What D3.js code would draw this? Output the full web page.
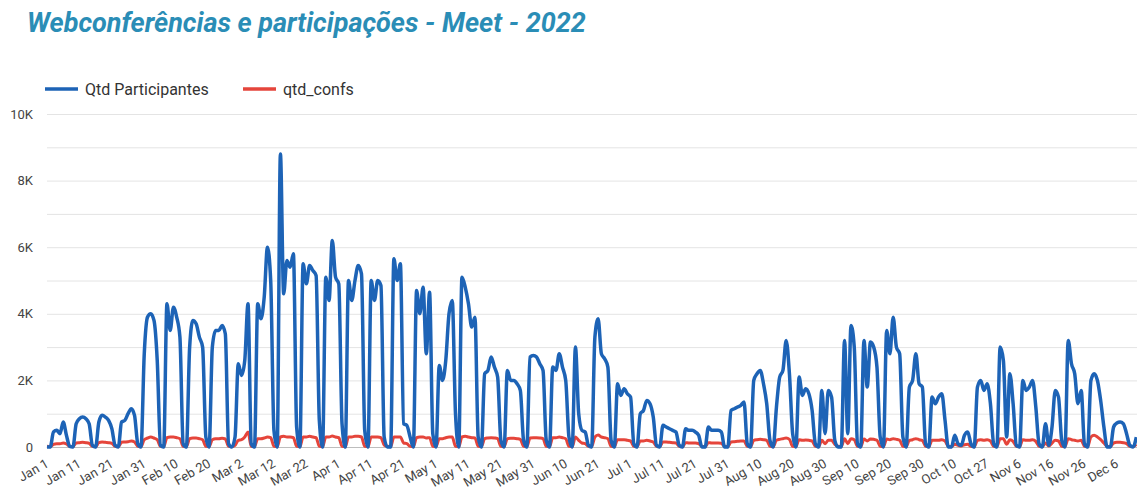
<!DOCTYPE html>
<html><head><meta charset="utf-8">
<script src="https://cdn.jsdelivr.net/npm/d3@7"></script>
<style>
body{margin:0;background:#fff;}
svg{display:block;font-family:Roboto, "Noto Sans", sans-serif;}
</style>
</head><body>
<svg id="chart" width="1137" height="489"></svg>
<script>
const title = "Webconferências e participações - Meet - 2022";
const seriesNames = ["Qtd Participantes", "qtd_confs"];

const categories = [
"Jan 1","Jan 2","Jan 3","Jan 4","Jan 5","Jan 6","Jan 7","Jan 8","Jan 9","Jan 10","Jan 11","Jan 12","Jan 13","Jan 14","Jan 15","Jan 16","Jan 17","Jan 18","Jan 19","Jan 20","Jan 21","Jan 22","Jan 23","Jan 24","Jan 25","Jan 26","Jan 27","Jan 28","Jan 29","Jan 30","Jan 31",
"Feb 1","Feb 2","Feb 3","Feb 4","Feb 5","Feb 6","Feb 7","Feb 8","Feb 9","Feb 10","Feb 11","Feb 12","Feb 13","Feb 14","Feb 15","Feb 16","Feb 17","Feb 18","Feb 19","Feb 20","Feb 21","Feb 22","Feb 23","Feb 24","Feb 25","Feb 26","Feb 27","Feb 28",
"Mar 1","Mar 2","Mar 3","Mar 4","Mar 5","Mar 6","Mar 7","Mar 8","Mar 9","Mar 10","Mar 11","Mar 12","Mar 13","Mar 14","Mar 15","Mar 16","Mar 17","Mar 18","Mar 19","Mar 20","Mar 21","Mar 22","Mar 23","Mar 24","Mar 25","Mar 26","Mar 27","Mar 28","Mar 29","Mar 30","Mar 31",
"Apr 1","Apr 2","Apr 3","Apr 4","Apr 5","Apr 6","Apr 7","Apr 8","Apr 9","Apr 10","Apr 11","Apr 12","Apr 13","Apr 14","Apr 15","Apr 16","Apr 17","Apr 18","Apr 19","Apr 20","Apr 21","Apr 22","Apr 23","Apr 24","Apr 25","Apr 26","Apr 27","Apr 28","Apr 29","Apr 30",
"May 1","May 2","May 3","May 4","May 5","May 6","May 7","May 8","May 9","May 10","May 11","May 12","May 13","May 14","May 15","May 16","May 17","May 18","May 19","May 20","May 21","May 22","May 23","May 24","May 25","May 26","May 27","May 28","May 29","May 30","May 31",
"Jun 1","Jun 2","Jun 3","Jun 4","Jun 5","Jun 6","Jun 7","Jun 8","Jun 9","Jun 10","Jun 11","Jun 12","Jun 13","Jun 14","Jun 15","Jun 17","Jun 18","Jun 19","Jun 20","Jun 21","Jun 22","Jun 23","Jun 24","Jun 25","Jun 26","Jun 27","Jun 28","Jun 29","Jun 30",
"Jul 1","Jul 2","Jul 3","Jul 4","Jul 5","Jul 6","Jul 7","Jul 8","Jul 9","Jul 10","Jul 11","Jul 12","Jul 13","Jul 14","Jul 15","Jul 16","Jul 17","Jul 18","Jul 19","Jul 20","Jul 21","Jul 22","Jul 23","Jul 24","Jul 25","Jul 26","Jul 27","Jul 28","Jul 29","Jul 30","Jul 31",
"Aug 1","Aug 2","Aug 3","Aug 4","Aug 5","Aug 6","Aug 7","Aug 8","Aug 9","Aug 10","Aug 11","Aug 12","Aug 13","Aug 14","Aug 15","Aug 16","Aug 17","Aug 18","Aug 19","Aug 20","Aug 21","Aug 22","Aug 23","Aug 24","Aug 25","Aug 26","Aug 27","Aug 28","Aug 29","Aug 30","Aug 31",
"Sep 1","Sep 2","Sep 3","Sep 4","Sep 5","Sep 6","Sep 8","Sep 9","Sep 10","Sep 11","Sep 12","Sep 13","Sep 14","Sep 15","Sep 16","Sep 17","Sep 18","Sep 19","Sep 20","Sep 21","Sep 22","Sep 23","Sep 24","Sep 25","Sep 26","Sep 27","Sep 28","Sep 29","Sep 30",
"Oct 1","Oct 2","Oct 3","Oct 4","Oct 5","Oct 6","Oct 7","Oct 8","Oct 9","Oct 10","Oct 11","Oct 12","Oct 13","Oct 14","Oct 22","Oct 23","Oct 24","Oct 25","Oct 26","Oct 27","Oct 28","Oct 29","Oct 30","Oct 31",
"Nov 1","Nov 2","Nov 3","Nov 4","Nov 5","Nov 6","Nov 7","Nov 8","Nov 9","Nov 10","Nov 11","Nov 12","Nov 13","Nov 14","Nov 15","Nov 16","Nov 17","Nov 18","Nov 19","Nov 20","Nov 21","Nov 22","Nov 23","Nov 24","Nov 25","Nov 26","Nov 27","Nov 28","Nov 29","Nov 30",
"Dec 1","Dec 2","Dec 3","Dec 4","Dec 5","Dec 6","Dec 7","Dec 8","Dec 9","Dec 10","Dec 11","Dec 12"
];

// Qtd Participantes (daily)
const participantes = [
  0, 0,
  450, 500, 400, 750, 350, 20, 0,
  700, 850, 900, 850, 700, 50, 0,
  750, 950, 900, 800, 550, 50, 0,
  750, 800, 1000, 1150, 950, 100, 0,
  2800, 3900, 4000, 3800, 2600, 50, 0,
  4300, 3500, 4200, 3900, 3300, 100, 0,
  3000, 3800, 3700, 3300, 3000, 300, 0,
  3000, 3500, 3500, 3650, 3400, 100, 0,
  300, 2500, 2150, 2600, 4300, 100, 0,
  4300, 3850, 4500, 6000, 5000, 500, 0,
  8800, 4600, 5600, 5400, 5800, 600, 0,
  5500, 4900, 5450, 5300, 5150, 800, 0,
  5100, 4400, 6200, 5100, 4900, 700, 0,
  5000, 4400, 5000, 5450, 5200, 500, 0,
  5000, 4400, 5000, 4850, 300, 0, 0,
  5650, 5000, 5500, 700, 650, 300, 0,
  4700, 4000, 4800, 2800, 4650, 400, 0,
  2450, 2000, 2600, 4000, 4400, 1000, 0,
  5100, 4800, 4300, 3600, 3900, 300, 0,
  2200, 2300, 2700, 2400, 2100, 200, 0,
  2300, 2000, 2000, 1900, 1700, 200, 0,
  2700, 2750, 2700, 2500, 2300, 200, 0,
  2400, 2300, 2800, 2400, 2000, 300, 0,
  3000, 1000, 500, 450, 50, 0,
  3300, 3850, 2800, 2650, 2400, 200, 0,
  1900, 1550, 1750, 1600, 1500, 100, 0,
  1000, 1100, 1400, 1300, 900, 50, 0,
  650, 600, 550, 500, 450, 50, 0,
  550, 500, 500, 450, 350, 0, 0,
  600, 500, 500, 500, 450, 0, 0,
  1100, 1150, 1200, 1250, 1350, 100, 0,
  2000, 2200, 2300, 1900, 1300, 200, 0,
  1200, 2100, 2300, 3200, 2200, 400, 0,
  2100, 1550, 1750, 1600, 1100, 100, 0,
  1700, 400, 1700, 1500, 200, 0, 0,
  3200, 400, 3650, 3000, 100, 0,
  3200, 1800, 3150, 3000, 2400, 300, 0,
  3500, 2800, 3900, 3000, 2800, 300, 0,
  1800, 2000, 2800, 1900, 1800, 100, 0,
  1500, 1300, 1500, 1600, 800, 0, 0,
  350, 100, 50, 350, 450, 100, 0,
  1800, 2000, 1700, 1900, 1300, 100, 0,
  3000, 2600, 300, 2200, 1300, 50, 0,
  2000, 1700, 1800, 2000, 1200, 100, 0,
  700, 50, 600, 1700, 1500, 200, 0,
  3200, 2500, 2200, 1300, 1700, 100, 0,
  2000, 2200, 2000, 1400, 600, 0, 0,
  600, 720, 750, 700, 400, 50, 0,
  300
];

// qtd_confs (daily)
const confs = [
  20, 10,
  80, 100, 100, 120, 90, 20, 10,
  120, 130, 140, 130, 110, 20, 10,
  130, 150, 140, 130, 110, 20, 10,
  140, 150, 160, 180, 150, 20, 10,
  220, 270, 300, 270, 220, 20, 10,
  280, 300, 300, 280, 250, 20, 10,
  250, 270, 270, 250, 220, 20, 10,
  220, 250, 250, 260, 240, 20, 10,
  50, 200, 220, 300, 450, 20, 10,
  250, 250, 270, 300, 280, 20, 10,
  300, 320, 300, 300, 280, 20, 10,
  300, 300, 320, 300, 280, 20, 10,
  300, 300, 330, 300, 280, 20, 10,
  300, 300, 320, 320, 300, 20, 10,
  300, 300, 300, 280, 60, 20, 10,
  300, 300, 300, 120, 100, 20, 10,
  280, 300, 300, 270, 280, 20, 10,
  250, 250, 280, 300, 300, 20, 10,
  300, 320, 300, 280, 270, 20, 10,
  250, 270, 280, 270, 250, 20, 10,
  250, 260, 260, 250, 230, 20, 10,
  270, 280, 280, 270, 250, 20, 10,
  280, 280, 300, 280, 250, 20, 10,
  300, 200, 120, 100, 20, 10,
  300, 360, 300, 280, 250, 20, 10,
  220, 220, 220, 200, 180, 20, 10,
  180, 180, 200, 180, 150, 20, 10,
  150, 150, 140, 130, 120, 20, 10,
  130, 120, 120, 120, 100, 20, 10,
  130, 120, 120, 120, 110, 20, 10,
  150, 160, 170, 180, 180, 20, 10,
  200, 220, 230, 220, 200, 20, 10,
  200, 230, 250, 270, 230, 20, 10,
  220, 200, 210, 200, 180, 20, 10,
  200, 100, 200, 200, 80, 20, 10,
  250, 100, 250, 220, 20, 10,
  240, 180, 240, 230, 200, 20, 10,
  240, 220, 250, 230, 200, 20, 10,
  200, 220, 250, 220, 200, 20, 10,
  200, 200, 200, 220, 180, 20, 10,
  80, 50, 30, 70, 80, 20, 10,
  200, 220, 200, 220, 180, 20, 10,
  250, 250, 80, 220, 170, 20, 10,
  220, 200, 200, 220, 170, 20, 10,
  120, 30, 120, 200, 180, 20, 10,
  250, 220, 200, 180, 200, 20, 10,
  300, 350, 300, 220, 120, 20, 10,
  120, 140, 140, 130, 100, 20, 10,
  80
];

const yGridTicks = [0,1000,2000,3000,4000,5000,6000,7000,8000,9000,10000];
const yLabelTicks = [0,2000,4000,6000,8000,10000];
const xTickLabels = categories.filter((d,i)=> i % 10 === 0);

const colors = {blue:"#1d63b6", red:"#e5453b"};

const svg = d3.select("#chart");
const pL = 47, pR = 1137, pT = 114, pB = 447;

const x = d3.scalePoint().domain(categories).range([pL, pL + 3.242*(categories.length-1)]);
const y = d3.scaleLinear().domain([0,10000]).range([pB, pT]);

// title
svg.append("text").attr("x",27).attr("y",32)
  .attr("font-size",27).attr("font-weight",700).attr("font-style","italic")
  .attr("fill","#2a8db6").text(title);

// legend
const leg = [{name:seriesNames[0], c:colors.blue, x:45}, {name:seriesNames[1], c:colors.red, x:243}];
leg.forEach(l=>{
  svg.append("line").attr("x1",l.x).attr("x2",l.x+33).attr("y1",89).attr("y2",89)
    .attr("stroke",l.c).attr("stroke-width",3.5);
  svg.append("text").attr("x",l.x+40).attr("y",94.5).attr("font-size",16).attr("fill","#333").text(l.name);
});

// gridlines
svg.append("g").selectAll("line").data(yGridTicks).join("line")
  .attr("x1",pL).attr("x2",pR).attr("y1",d=>y(d)+0.5).attr("y2",d=>y(d)+0.5)
  .attr("stroke",d=> d===0 ? "#bdbdbd" : "#e4e4e4").attr("stroke-width",1);

// y axis labels
const yAxis = d3.axisLeft(y).tickValues(yLabelTicks).tickSize(0).tickPadding(14)
  .tickFormat(d=> d===0 ? "0" : (d/1000)+"K");
const gy = svg.append("g").attr("transform",`translate(${pL},0)`).call(yAxis);
gy.select(".domain").remove();
gy.selectAll("text").attr("font-size",13).attr("fill","#444").attr("font-family","Roboto, sans-serif");

// x axis labels
const xAxis = d3.axisBottom(x).tickValues(xTickLabels).tickSize(0);
const gx = svg.append("g").attr("transform",`translate(0,${pB})`).call(xAxis);
gx.select(".domain").remove();
gx.selectAll("text")
  .attr("y",0).attr("dy",0)
  .attr("text-anchor","end")
  .attr("transform","translate(2,19) rotate(-30)")
  .attr("font-size",13).attr("fill","#444").attr("font-family","Roboto, sans-serif");

// lines
const lineGen = d3.line().x((d,i)=>x(categories[i])).y(d=>y(d)).curve(d3.curveMonotoneX);
svg.append("path").datum(confs).attr("fill","none").attr("stroke",colors.red)
  .attr("stroke-width",3).attr("stroke-linejoin","round").attr("d",lineGen);
svg.append("path").datum(participantes).attr("fill","none").attr("stroke",colors.blue)
  .attr("stroke-width",3.5).attr("stroke-linejoin","round").attr("d",lineGen);
</script>
</body></html>
